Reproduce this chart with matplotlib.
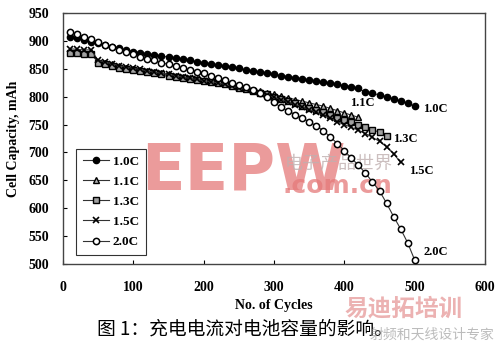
import matplotlib
matplotlib.use("Agg")
import matplotlib.pyplot as plt
import numpy as np

# ---------------- data ----------------
cyc_10 = list(range(10, 510, 10))
cap_10 = [907, 905, 902, 899, 896, 893, 890, 887, 884, 881,
          879, 877, 875, 873, 871, 869, 867, 865, 863, 861,
          859, 857, 855, 853, 851, 848, 846, 844, 842, 840,
          838, 836, 834, 832, 830, 828, 826, 824, 822, 820,
          818, 815, 808, 806, 803, 800, 796, 792, 788, 783]

cyc_11 = list(range(10, 430, 10))
cap_11 = [882, 881, 880, 880, 863, 861, 858, 855, 852, 850,
          848, 846, 844, 842, 840, 838, 836, 834, 832, 830,
          828, 826, 824, 821, 818, 815, 812, 810, 807, 804,
          801, 798, 795, 792, 789, 786, 783, 779, 775, 771,
          767, 763]

cyc_13 = list(range(10, 470, 10))
cap_13 = [879, 878, 877, 877, 861, 858, 855, 852, 850, 848,
          846, 844, 842, 840, 838, 836, 834, 832, 830, 828,
          826, 824, 822, 819, 816, 813, 810, 807, 804, 800,
          796, 792, 788, 784, 780, 776, 772, 767, 762, 758,
          754, 750, 746, 741, 736, 730]

cyc_15 = list(range(10, 490, 10))
cap_15 = [886, 885, 884, 884, 865, 862, 859, 856, 853, 851,
          849, 846, 844, 842, 840, 838, 835, 833, 831, 829,
          827, 825, 822, 819, 816, 813, 810, 807, 803, 799,
          795, 791, 786, 782, 777, 772, 767, 761, 755, 750,
          745, 740, 734, 727, 720, 710, 698, 682]

cyc_20 = list(range(10, 510, 10))
cap_20 = [916, 912, 908, 904, 898, 893, 889, 884, 880, 876,
          872, 868, 865, 861, 858, 855, 851, 848, 845, 842,
          838, 834, 830, 825, 821, 817, 812, 806, 799, 790,
          781, 775, 768, 762, 755, 748, 739, 728, 716, 703,
          690, 677, 663, 647, 631, 609, 585, 563, 538, 507]

labels = ["1.0C", "1.1C", "1.3C", "1.5C", "2.0C"]
x_ticks = [0, 100, 200, 300, 400, 500, 600]
y_ticks = [500, 550, 600, 650, 700, 750, 800, 850, 900, 950]

# ---------------- figure ----------------
plt.rcParams['font.family'] = ['Liberation Serif', 'DejaVu Serif']
fig = plt.figure(figsize=(5.0, 3.45), dpi=100)
ax = fig.add_axes([0.126, 0.235, 0.844, 0.727])

# watermarks (behind the data)
ax.text(0.185, 0.37, "EEPW", transform=ax.transAxes, fontsize=46, fontweight='bold',
        color='#e57a7a', alpha=0.75, family='DejaVu Sans', ha='left', va='center', zorder=1)
ax.text(0.52, 0.31, ".com.cn", transform=ax.transAxes, fontsize=18, fontweight='bold',
        color='#e57a7a', alpha=0.75, family='DejaVu Sans', ha='left', va='center', zorder=1)
ax.text(0.525, 0.40, "电子产品世界", transform=ax.transAxes, fontsize=13,
        color='#c0b0b0', alpha=0.8, family=['Noto Sans CJK SC'], ha='left', va='center', zorder=1)

series = [
    (cyc_10, cap_10, dict(marker='o', mfc='black', mec='black', ms=4.5)),
    (cyc_11, cap_11, dict(marker='^', mfc='#b0b0b0', mec='black', ms=4.5)),
    (cyc_13, cap_13, dict(marker='s', mfc='#a0a0a0', mec='black', ms=4.2)),
    (cyc_15, cap_15, dict(marker='x', mfc='black', mec='black', ms=4.5, mew=1.2)),
    (cyc_20, cap_20, dict(marker='o', mfc='white', mec='black', ms=4.5, mew=1.1)),
]
for (xs, ys, st), lab in zip(series, labels):
    ax.plot(xs, ys, color='#333333', lw=0.8, label=lab, zorder=3, **st)

# inline end labels
offsets = {"1.0C": (6, -2), "1.1C": (-6, 10), "1.3C": (5, -2), "1.5C": (6, -6), "2.0C": (6, 6)}
for (xs, ys, st), lab in zip(series, labels):
    dx, dy = offsets[lab]
    ax.annotate(lab, (xs[-1], ys[-1]), xytext=(dx, dy), textcoords='offset points',
                fontsize=9, fontweight='bold', ha='left', va='center', zorder=4)

ax.set_xlim(0, 600)
ax.set_ylim(500, 950)
ax.set_xticks(x_ticks)
ax.set_yticks(y_ticks)
ax.tick_params(axis='both', direction='in', length=3, width=0.8, labelsize=10)
ax.tick_params(axis='x', pad=12)
ax.tick_params(axis='y', pad=10)
for t in ax.get_xticklabels() + ax.get_yticklabels():
    t.set_fontweight('bold')
for s in ax.spines.values():
    s.set_color('#444444')
    s.set_linewidth(1.0)

ax.set_xlabel("No. of Cycles", fontsize=10, fontweight='bold', labelpad=4)
ax.set_ylabel("Cell Capacity, mAh", fontsize=10, fontweight='bold', labelpad=6)

leg = ax.legend(loc='lower left', bbox_to_anchor=(0.015, 0.01),
                prop={'weight': 'bold', 'size': 9.5}, frameon=True, fancybox=False,
                edgecolor='black', handlelength=2.0, labelspacing=0.6,
                borderpad=0.5, handletextpad=0.3)
leg.get_frame().set_linewidth(0.8)
leg.get_frame().set_facecolor('none')
leg.set_zorder(5)

# bottom-right watermark
fig.text(0.69, 0.105, "易迪拓培训", fontsize=17, fontweight='bold', color='#e08080', alpha=0.6,
         family=['Noto Sans CJK SC'], ha='left', va='center', zorder=10)
fig.text(0.74, 0.03, "射频和天线设计专家", fontsize=10, color='#909090', alpha=0.6,
         family=['Noto Sans CJK SC'], ha='left', va='center', zorder=10)

# caption
fig.text(0.49, 0.045, "图 1：充电电流对电池容量的影响。", fontsize=13.5,
         family=['Noto Sans CJK SC', 'DejaVu Sans'], ha='center', va='center',
         fontweight='light')

fig.savefig("out.png", dpi=100)
